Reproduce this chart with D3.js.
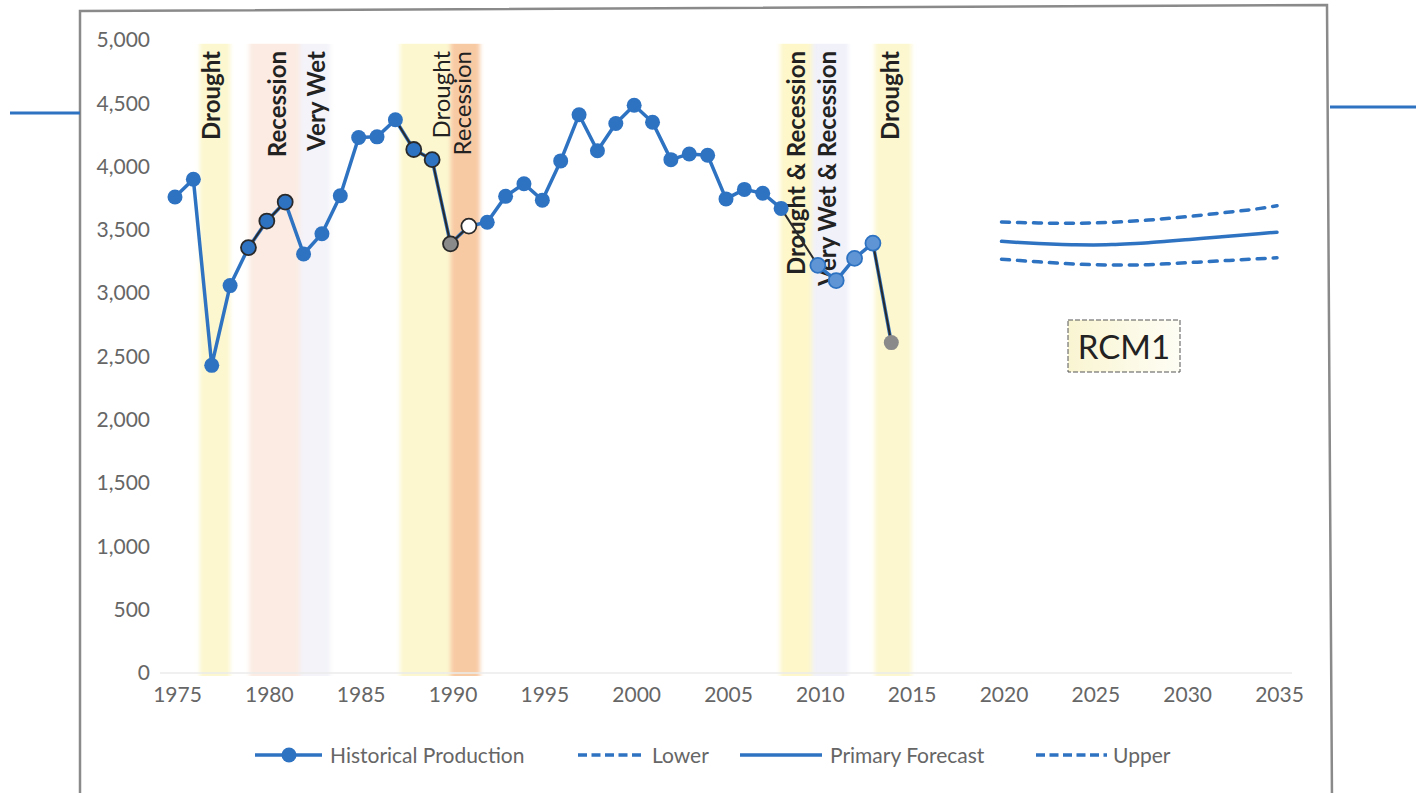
<!DOCTYPE html>
<html>
<head>
<meta charset="utf-8">
<script src="https://cdn.jsdelivr.net/npm/d3@7"></script>
<style>
  html, body { margin: 0; padding: 0; background: #fff; }
  svg { display: block; font-family: Lato, "Open Sans", sans-serif; }
</style>
</head>
<body>
<svg id="chart" width="1416" height="793"></svg>
<script>
// ---- data -------------------------------------------------------------
const histYears = [1975, 1976, 1977, 1978, 1979, 1980, 1981, 1982, 1983, 1984,
                   1985, 1986, 1987, 1988, 1989, 1990, 1991, 1992, 1993, 1994,
                   1995, 1996, 1997, 1998, 1999, 2000, 2001, 2002, 2003, 2004,
                   2005, 2006, 2007, 2008, 2009, 2010, 2011, 2012, 2013, 2014];
const histValues = [3760, 3900, 2430, 3060, 3360, 3570, 3720, 3310, 3470, 3770,
                    4230, 4235, 4370, 4135, 4055, 3390, 3530, 3560, 3765, 3865,
                    3735, 4045, 4410, 4125, 4340, 4485, 4350, 4055, 4100, 4090,
                    3745, 3820, 3790, 3670, null, 3220, 3100, 3275, 3395, 2610];

const forecastYears = [2020, 2021, 2022, 2023, 2024, 2025, 2026, 2027,
                       2028, 2029, 2030, 2031, 2032, 2033, 2034, 2035];
const primaryForecast = [3410, 3400, 3392, 3386, 3382, 3381, 3384, 3390,
                         3398, 3410, 3422, 3434, 3446, 3458, 3470, 3482];
const lowerForecast = [3268, 3258, 3248, 3238, 3230, 3225, 3222, 3222,
                       3225, 3232, 3240, 3248, 3256, 3264, 3272, 3280];
const upperForecast = [3562, 3558, 3555, 3553, 3553, 3555, 3560, 3568,
                       3578, 3590, 3603, 3618, 3634, 3650, 3668, 3690];

const yTicks = [0, 500, 1000, 1500, 2000, 2500, 3000, 3500, 4000, 4500, 5000];
const xTicks = [1975, 1980, 1985, 1990, 1995, 2000, 2005, 2010, 2015, 2020, 2025, 2030, 2035];

// climate / economic events shaded behind the series
const events = [
  { label: "Drought",              kind: "drought",          from: 1976.35, to: 1978.0,  at: 1977.0,  strong: true },
  { label: "Recession",            kind: "recession",        from: 1979.05, to: 1981.8,  at: 1980.55, strong: true },
  { label: "Very Wet",             kind: "wet",              from: 1981.8,  to: 1983.45, at: 1982.7,  strong: true },
  { label: "Drought",              kind: "drought",          from: 1987.25, to: 1990.0,  at: 1989.5,  strong: false },
  { label: "Recession",            kind: "deepRecession",    from: 1990.0,  to: 1991.6,  at: 1990.65, strong: false },
  { label: "Drought & Recession",  kind: "droughtRecession", from: 2007.95, to: 2009.7,  at: 2008.85, strong: true },
  { label: "Very Wet & Recession", kind: "wetRecession",     from: 2009.7,  to: 2011.65, at: 2010.5,  strong: true },
  { label: "Drought",              kind: "drought",          from: 2013.1,  to: 2015.1,  at: 2013.95, strong: true }
];

// revised stretches of the historical record and the flagged observations
const revisedSpans = [[1979, 1981], [1987, 1991], [2008, 2010], [2013, 2014]];
const flaggedYears = [1979, 1980, 1981, 1988, 1989, 1990, 1991];
const estimatedYears = [1990, 2014];
const partialYears = [1991];
const preliminaryYears = [2010, 2011, 2012, 2013];

// ---- drawing ----------------------------------------------------------
const BLUE = "#2e72c2";
const svg = d3.select("#chart");

const x = d3.scaleLinear().domain([1975, 2035]).range([175, 1277]);
const y = d3.scaleLinear().domain([0, 5000]).range([673, 40]);

const defs = svg.append("defs");
defs.append("filter").attr("id", "soft")
  .attr("x", "-20%").attr("width", "140%")
  .append("feGaussianBlur").attr("stdDeviation", "2 0.6");

const bandFill = {
  drought: "#fcf7cf",
  recession: "#fbebe2",
  deepRecession: "#f8caa4",
  wet: "#f3f3f9",
  droughtRecession: "#fdf7ca",
  wetRecession: "#f0f1f9"
};

// outer frame of the chart object plus connector strokes on either side
svg.append("path")
  .attr("d", "M80,800 L80,11 L1327,5 L1332,800")
  .attr("fill", "none").attr("stroke", "#8a8a8a").attr("stroke-width", 2.5);
svg.append("line").attr("x1", 10).attr("x2", 80).attr("y1", 113).attr("y2", 113)
  .attr("stroke", BLUE).attr("stroke-width", 3);
svg.append("line").attr("x1", 1330).attr("x2", 1416).attr("y1", 107).attr("y2", 107)
  .attr("stroke", BLUE).attr("stroke-width", 3);

// event shading
svg.append("g").attr("filter", "url(#soft)")
  .selectAll("rect").data(events).join("rect")
  .attr("x", d => x(d.from))
  .attr("width", d => x(d.to) - x(d.from))
  .attr("y", y(4970))
  .attr("height", y(0) - y(4970) + 3)
  .attr("fill", d => bandFill[d.kind]);

// baseline
svg.append("line")
  .attr("x1", 160).attr("x2", 1292).attr("y1", y(0)).attr("y2", y(0))
  .attr("stroke", "#ebebeb").attr("stroke-width", 1.5);

// y axis labels
const yAxis = d3.axisLeft(y).tickValues(yTicks).tickFormat(d3.format(",")).tickSize(0).tickPadding(0);
svg.append("g").attr("transform", "translate(150,0)").call(yAxis)
  .call(g => g.select(".domain").remove())
  .selectAll("text")
  .attr("fill", "#666").attr("font-size", 21).attr("font-family", "Lato, sans-serif");

// x axis labels
const xAxis = d3.axisBottom(x).tickValues(xTicks).tickFormat(d3.format("d")).tickSize(0).tickPadding(0);
svg.append("g").attr("transform", "translate(2,687)").call(xAxis)
  .call(g => g.select(".domain").remove())
  .selectAll("text")
  .attr("fill", "#666").attr("font-size", 21).attr("font-family", "Lato, sans-serif");

// event labels, rotated to read bottom-to-top
svg.append("g").selectAll("text").data(events).join("text")
  .attr("transform", d => `translate(${x(d.at)},51) rotate(-90)`)
  .attr("text-anchor", "end")
  .attr("dy", "0.36em")
  .attr("font-size", d => d.strong ? 24 : 24)
  .attr("font-weight", d => d.strong ? 700 : 400)
  .attr("fill", "#222")
  .text(d => d.label);

// historical production
const hist = histYears.map((yr, i) => ({ year: yr, value: histValues[i] }));
const line = d3.line().defined(d => d.value != null)
  .x(d => x(d.year)).y(d => y(d.value));

svg.append("path").datum(hist)
  .attr("d", line)
  .attr("fill", "none").attr("stroke", BLUE).attr("stroke-width", 3.5)
  .attr("stroke-linejoin", "round");

// revised stretches drawn as a thin dark trace over the main line
const revisedLine = d3.line().x(d => x(d.year)).y(d => y(d.value));
svg.append("g").selectAll("path").data(revisedSpans).join("path")
  .attr("d", s => revisedLine(hist.filter(d => d.value != null && d.year >= s[0] && d.year <= s[1])))
  .attr("fill", "none").attr("stroke", "#2a2a2a").attr("stroke-width", 2)
  .attr("stroke-linejoin", "round");

svg.append("g").selectAll("circle").data(hist.filter(d => d.value != null)).join("circle")
  .attr("cx", d => x(d.year)).attr("cy", d => y(d.value)).attr("r", 7.5)
  .attr("fill", d => partialYears.includes(d.year) ? "#ffffff"
                   : estimatedYears.includes(d.year) ? "#8a8a8a"
                   : preliminaryYears.includes(d.year) ? "#5f95d4" : BLUE)
  .attr("stroke", d => flaggedYears.includes(d.year) ? "#2a2a2a"
                     : preliminaryYears.includes(d.year) ? BLUE : "none")
  .attr("stroke-width", 1.8);

// forecast band
const fLine = vals => d3.line().curve(d3.curveMonotoneX)
  .x((d, i) => x(forecastYears[i])).y(d => y(d))(vals);

svg.append("path").attr("d", fLine(upperForecast))
  .attr("fill", "none").attr("stroke", BLUE).attr("stroke-width", 3.5)
  .attr("stroke-dasharray", "8,8").attr("stroke-linecap", "round");
svg.append("path").attr("d", fLine(lowerForecast))
  .attr("fill", "none").attr("stroke", BLUE).attr("stroke-width", 3.5)
  .attr("stroke-dasharray", "8,8").attr("stroke-linecap", "round");
svg.append("path").attr("d", fLine(primaryForecast))
  .attr("fill", "none").attr("stroke", BLUE).attr("stroke-width", 3.5)
  .attr("stroke-linecap", "round");

// scenario tag
const tag = svg.append("g").attr("transform", "translate(1068,320)");
const grad = defs.append("linearGradient").attr("id", "tagFill");
grad.append("stop").attr("offset", "0%").attr("stop-color", "#f9f5d2");
grad.append("stop").attr("offset", "100%").attr("stop-color", "#fefdf4");
tag.append("rect").attr("width", 112).attr("height", 52)
  .attr("fill", "url(#tagFill)").attr("stroke", "#555").attr("stroke-width", 1)
  .attr("stroke-dasharray", "5,2");
tag.append("text").attr("x", 56).attr("y", 27).attr("dy", "0.36em")
  .attr("text-anchor", "middle").attr("font-size", 33).attr("fill", "#222")
  .text("RCM1");

// legend
const legend = svg.append("g").attr("transform", "translate(0,755)")
  .attr("font-size", 21).attr("fill", "#666");
const items = [
  { name: "Historical Production", x0: 255, x1: 322, tx: 330, dash: null, marker: true },
  { name: "Lower",                 x0: 578, x1: 642, tx: 652, dash: "9,4.5", marker: false },
  { name: "Primary Forecast",      x0: 740, x1: 822, tx: 830, dash: null, marker: false },
  { name: "Upper",                 x0: 1036, x1: 1107, tx: 1113, dash: "9,4.5", marker: false }
];
items.forEach(it => {
  legend.append("line").attr("x1", it.x0).attr("x2", it.x1)
    .attr("stroke", BLUE).attr("stroke-width", 3.5)
    .attr("stroke-dasharray", it.dash);
  if (it.marker) {
    legend.append("circle").attr("cx", (it.x0 + it.x1) / 2 + 0.5).attr("r", 7.5).attr("fill", BLUE);
  }
  legend.append("text").attr("x", it.tx).attr("dy", "0.36em").text(it.name);
});
</script>
</body>
</html>
